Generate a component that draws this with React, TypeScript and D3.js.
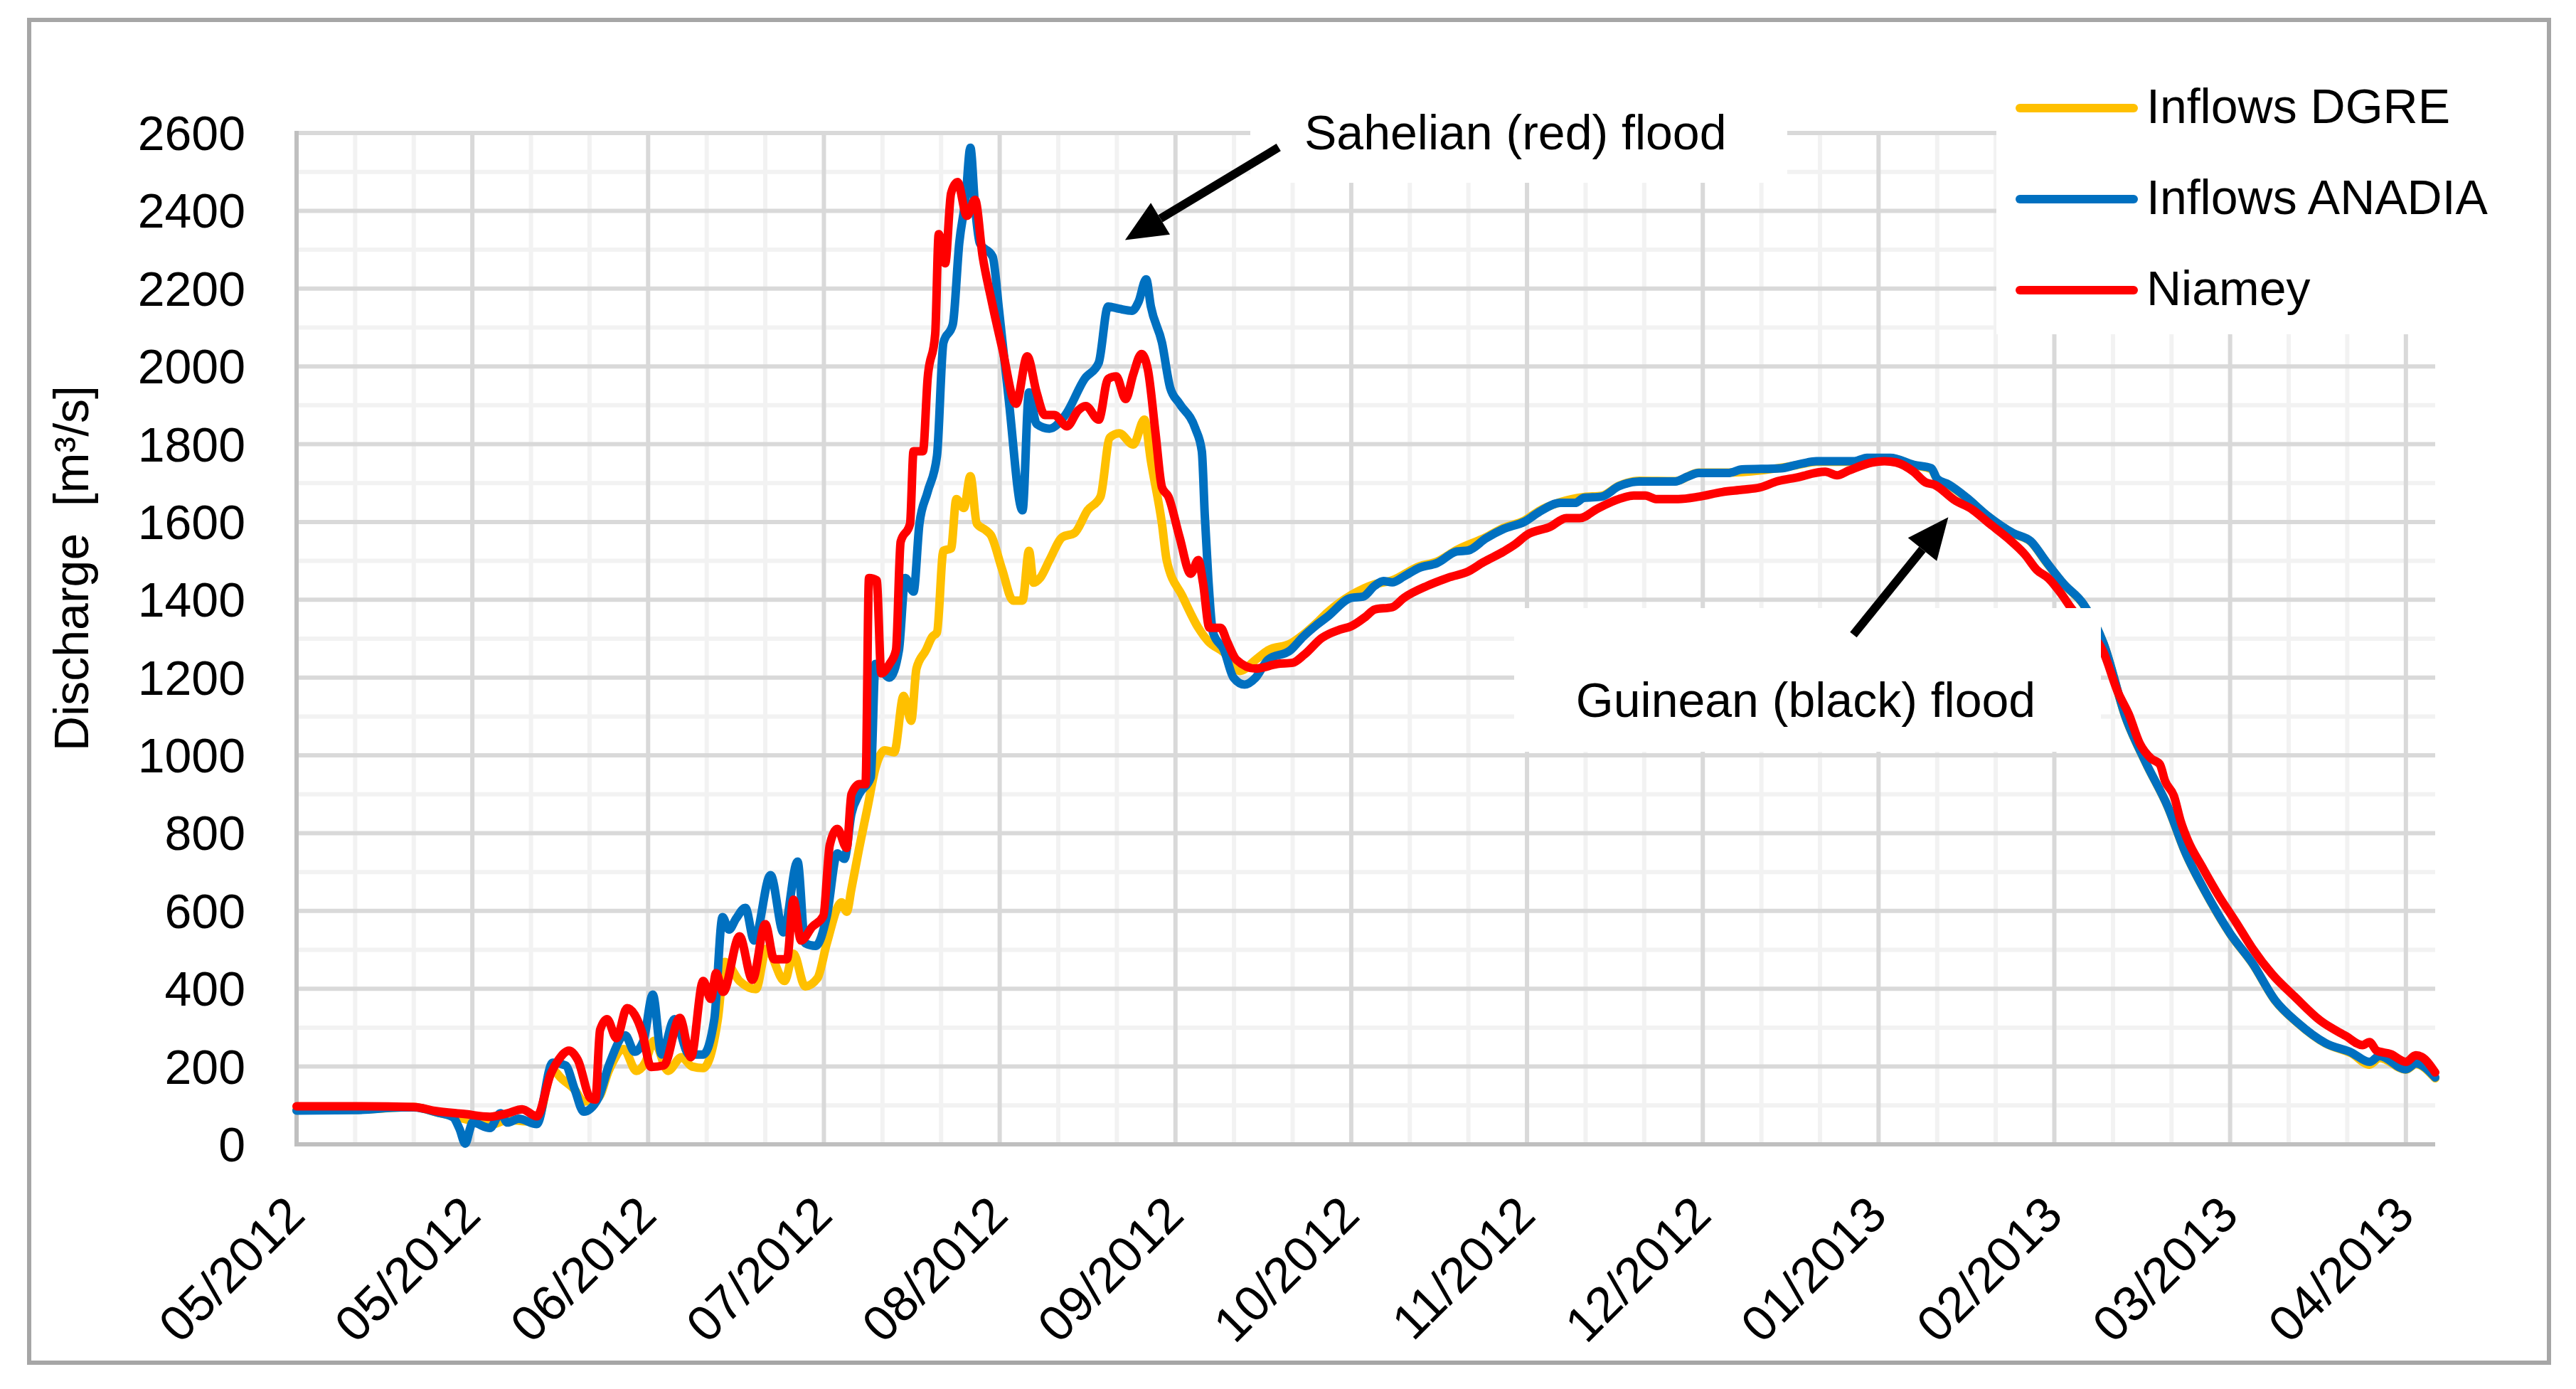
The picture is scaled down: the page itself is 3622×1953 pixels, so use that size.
import { useRef, useLayoutEffect } from "react";
import * as d3 from "d3";

// day offsets from 01/05/2012, discharge in m3/s
const dgre: [number, number][] = [
  [0, 88], [10, 89], [20, 96], [24, 82], [27, 72], [30, 60], [33, 50], [36, 62], [41, 58],
  [43.7, 190], [45.3, 168], [47.5, 140], [49, 110], [51.5, 120], [53.3, 190], [55.8, 245],
  [58, 189], [59.5, 210], [61, 266], [63.4, 189], [65.7, 224], [67.5, 200], [69.4, 196],
  [71.9, 322], [73.1, 469], [75.6, 420], [78.4, 399], [80.2, 503], [83.3, 420], [84.8, 490],
  [86.8, 406], [88.9, 427], [90.5, 517], [93, 622], [93.9, 598], [94.7, 657], [96, 760],
  [97.5, 870], [98.8, 967], [100.4, 1013], [102, 1008], [103.6, 1153], [104.9, 1089],
  [105.8, 1223], [107.4, 1270], [108.5, 1305], [109.3, 1316], [110.4, 1526], [111.7, 1532],
  [112.6, 1659], [113.9, 1636], [115, 1718], [116.1, 1596], [117.7, 1578], [118.5, 1566],
  [120.4, 1479], [122.3, 1398], [123.9, 1398], [125, 1526], [125.8, 1444], [126.9, 1456],
  [128.5, 1502], [130.7, 1561], [132.8, 1572], [135, 1630], [137.2, 1665], [138.8, 1817],
  [140.4, 1828], [142.8, 1799], [144.7, 1863], [145.8, 1758], [147.7, 1595], [148.5, 1502],
  [151.2, 1409], [153.9, 1328], [155.6, 1293], [158.3, 1264], [161, 1217], [163.7, 1246],
  [165.8, 1270], [169.6, 1287], [171.8, 1310], [174, 1339], [176, 1368], [180, 1412],
  [184, 1440], [187, 1450], [191.6, 1486], [194.6, 1498], [198, 1528], [203, 1561],
  [206, 1585], [209.6, 1604], [212, 1628], [215.7, 1651], [219.7, 1664], [222.7, 1667],
  [225.7, 1693], [229.2, 1706], [235.3, 1705], [239.3, 1727], [244.3, 1727], [250, 1733],
  [256, 1746], [259.4, 1755], [265.9, 1755], [268, 1764], [272, 1764], [276, 1746],
  [279, 1736], [280, 1710], [282, 1695], [285, 1662], [288.6, 1615], [293, 1570],
  [296, 1549], [298.6, 1497], [301.6, 1440], [305, 1387], [308.4, 1287], [312.2, 1096],
  [315.6, 981], [319.4, 866], [322.3, 752], [326.2, 637], [330, 541], [333.8, 465],
  [337.7, 369], [341.5, 312], [346.3, 259], [350.7, 234], [353.8, 205], [355.5, 222],
  [360, 192], [361.7, 206], [365, 170],
];

const anadia: [number, number][] = [
  [0, 87], [10, 88], [18, 95], [20, 95], [24, 82], [26.7, 70], [27.8, 40], [28.8, 2],
  [29.6, 40], [30, 56], [33, 42], [34.8, 80], [36, 56], [37.9, 66], [41, 52], [43.7, 210],
  [45.9, 203], [47.5, 140], [49, 84], [51.5, 119], [53.3, 203], [56.1, 280], [57.7, 238],
  [59.2, 266], [60.8, 385], [62.3, 231], [64.5, 322], [67, 231], [69.4, 231], [71.3, 322],
  [72.7, 584], [73.8, 552], [75, 580], [76.6, 608], [78.1, 524], [80.9, 692], [83.1, 545],
  [85.5, 727], [86.8, 517], [88.6, 510], [90.5, 587], [92.3, 748], [93.5, 734], [94.7, 850],
  [96, 900], [98, 944], [98.8, 1235], [101.2, 1200], [102.8, 1270], [103.9, 1456],
  [105.3, 1421], [106.3, 1595], [107.7, 1677], [109.3, 1770], [110.4, 2061], [112, 2108],
  [113.1, 2317], [114.2, 2434], [115, 2562], [115.8, 2410], [116.6, 2317], [118.8, 2282],
  [119.9, 2143], [121.5, 1921], [123.9, 1630], [125, 1933], [126.3, 1852], [128.5, 1840],
  [131.2, 1875], [134.5, 1968], [136.9, 2009], [138.5, 2154], [140.4, 2148], [142.6, 2143],
  [143.7, 2166], [145, 2224], [145.8, 2154], [147.7, 2061], [149.1, 1945], [150.7, 1904],
  [153.4, 1840], [154.5, 1782], [155, 1619], [155.6, 1456], [156.4, 1316], [158.3, 1270],
  [159.9, 1200], [161.8, 1182], [163.7, 1200], [165.8, 1246], [169.6, 1270], [171.8, 1305],
  [174, 1334], [176, 1357], [180, 1405], [182, 1408], [184, 1436], [185.5, 1448],
  [187, 1445], [189, 1460], [191.6, 1482], [194.6, 1494], [198, 1524], [200, 1527],
  [203, 1558], [206, 1582], [209.6, 1601], [212, 1625], [215.7, 1649], [218.2, 1649],
  [219.7, 1662], [222.7, 1665], [225.7, 1692], [229.2, 1704], [235.3, 1704], [237.3, 1716],
  [239.3, 1726], [244.3, 1726], [246.7, 1735], [253.3, 1738], [256, 1747], [259.4, 1756],
  [265.9, 1756], [268, 1765], [272, 1765], [276, 1747], [279, 1738], [280, 1711],
  [282, 1696], [285, 1663], [288.6, 1616], [293, 1571], [296, 1550], [298.6, 1498],
  [301.6, 1441], [305, 1388], [308.4, 1288], [312.2, 1097], [315.6, 982], [319.4, 867],
  [322.3, 753], [326.2, 638], [330, 542], [333.8, 466], [337.7, 370], [341.5, 313],
  [346.3, 260], [350.7, 236], [353.8, 212], [355.5, 227], [360, 193], [361.7, 208], [365, 172],
];

const niamey: [number, number][] = [
  [0, 98], [10, 98], [20, 96], [23.6, 86], [28.6, 78], [33, 71], [36, 80], [38.5, 90],
  [41, 72], [43.4, 182], [44.7, 217], [46.5, 241], [48, 217], [50.2, 118], [51, 115],
  [51.8, 294], [53, 322], [54.6, 273], [56.4, 350], [59, 287], [60.5, 199], [62.7, 203],
  [65.4, 325], [67.3, 224], [69.4, 420], [70.7, 374], [71.6, 440], [72.8, 392], [75.6, 535],
  [77.8, 423], [80, 566], [81.5, 476], [83.7, 476], [84.8, 629], [86.1, 524], [88, 559],
  [89.9, 587], [91, 769], [92.3, 811], [93.9, 762], [94.7, 900], [96.1, 926], [97.1, 926],
  [97.7, 1456], [99, 1450], [99.8, 1211], [101.2, 1235], [102.3, 1270], [103.1, 1549],
  [104.7, 1595], [105.3, 1782], [106.9, 1782], [107.7, 1968], [109, 2084], [109.6, 2340],
  [110.7, 2265], [111.7, 2445], [112.8, 2474], [114.4, 2387], [115.8, 2428], [117.1, 2282],
  [118.5, 2177], [120.4, 2049], [122.8, 1904], [124.7, 2026], [126.3, 1933], [127.7, 1875],
  [129.3, 1875], [131.5, 1846], [133.4, 1887], [134.7, 1898], [136.9, 1863], [138.5, 1968],
  [139.9, 1974], [141.5, 1916], [142.8, 1980], [144.2, 2032], [145.3, 1991], [146.6, 1828],
  [147.7, 1689], [148.8, 1665], [150.7, 1561], [152.6, 1467], [153.9, 1502], [154.7, 1444],
  [155.8, 1328], [157.7, 1328], [158.8, 1293], [160.4, 1246], [163.7, 1223], [167.4, 1235],
  [170, 1238], [172, 1259], [175, 1302], [178, 1323], [180, 1332], [182.5, 1357],
  [184, 1375], [187, 1381], [189, 1405], [193, 1436], [196.6, 1457], [200, 1473],
  [202.6, 1497], [206, 1524], [208, 1543], [210, 1567], [214, 1588], [216.7, 1610],
  [219, 1610], [222, 1634], [225.7, 1659], [228.2, 1668], [230.2, 1668], [232, 1659],
  [235.8, 1659], [239.3, 1665], [243.3, 1677], [246.8, 1683], [249.8, 1689], [252.8, 1705],
  [255.9, 1714], [260.9, 1729], [262.9, 1720], [264.9, 1732], [268.9, 1753], [271, 1756],
  [273, 1753], [276, 1729], [278, 1702], [279.5, 1696], [283, 1656], [286, 1632],
  [289, 1595], [292, 1559], [295, 1516], [297, 1477], [299, 1455], [301, 1419], [303, 1376],
  [305.5, 1330], [308.4, 1265], [310.8, 1164], [312.7, 1106], [314.6, 1030], [316.5, 992],
  [318, 977], [318.9, 934], [320.4, 896], [321.6, 829], [322.8, 781], [325.2, 714],
  [328.1, 638], [331, 571], [333.8, 504], [337.2, 437], [341, 380], [345.4, 318],
  [349.7, 279], [352.6, 255], [353.8, 263], [355, 241], [357.4, 232], [360, 212],
  [361.7, 229], [362.7, 225], [365, 185],
];

const seriesNames = ["Inflows DGRE", "Inflows ANADIA", "Niamey"];
const seriesColors = ["#ffc000", "#0070c0", "#ff0000"];

const xTickDays = [0, 30, 60, 90, 120, 150, 180, 210, 240, 270, 300, 330, 360];
const xTickLabels = [
  "05/2012", "05/2012", "06/2012", "07/2012", "08/2012", "09/2012", "10/2012",
  "11/2012", "12/2012", "01/2013", "02/2013", "03/2013", "04/2013",
];
const yTicks = [0, 200, 400, 600, 800, 1000, 1200, 1400, 1600, 1800, 2000, 2200, 2400, 2600];

// annotation arrows in data units: [tailDay, tailValue, tipDay, tipValue]
const sahelArrow = [167.6, 2563, 141.4, 2325];
const guineaArrow = [265.7, 1310, 281.9, 1612];

const W = 3622;
const H = 1953;
const FONT = "'Liberation Sans', Arial, sans-serif";

const useD3Chart = () => {
  const svgRef = useRef<SVGSVGElement | null>(null);

  useLayoutEffect(() => {
    if (!svgRef.current) return;
    document.body.style.margin = "0";

    const svg = d3.select(svgRef.current);
    svg.selectAll("*").remove();
    svg.attr("width", W).attr("height", H);

    const x = d3.scaleLinear().domain([0, 365]).range([417, 3424]);
    const y = d3.scaleLinear().domain([0, 2600]).range([1609, 187]);
    const [x0, x1] = x.range();
    const [y0, y1] = y.range();

    // chart frame
    svg.append("rect").attr("x", 41).attr("y", 28).attr("width", 3543).attr("height", 1888)
      .attr("fill", "#fff").attr("stroke", "#a6a6a6").attr("stroke-width", 6);

    const grid = svg.append("g").attr("stroke-width", 6);
    // minor grid first, major on top
    grid.selectAll("line.vmin").data(d3.range(10, 361, 10).filter((d) => d % 30 !== 0)).enter()
      .append("line").attr("x1", (d) => x(d)).attr("x2", (d) => x(d)).attr("y1", y1).attr("y2", y0)
      .attr("stroke", "#f2f2f2");
    grid.selectAll("line.hmin").data(d3.range(100, 2600, 200)).enter()
      .append("line").attr("x1", x0).attr("x2", x1).attr("y1", (d) => y(d)).attr("y2", (d) => y(d))
      .attr("stroke", "#f2f2f2");
    grid.selectAll("line.vmaj").data(xTickDays.slice(1)).enter()
      .append("line").attr("x1", (d) => x(d)).attr("x2", (d) => x(d)).attr("y1", y1).attr("y2", y0)
      .attr("stroke", "#d9d9d9");
    grid.selectAll("line.hmaj").data(yTicks.slice(1)).enter()
      .append("line").attr("x1", x0).attr("x2", x1).attr("y1", (d) => y(d)).attr("y2", (d) => y(d))
      .attr("stroke", "#d9d9d9");

    // axes
    svg.append("line").attr("x1", x0).attr("x2", x0).attr("y1", y1 - 3).attr("y2", y0)
      .attr("stroke", "#bfbfbf").attr("stroke-width", 6);
    svg.append("line").attr("x1", x0 - 3).attr("x2", x1).attr("y1", y0).attr("y2", y0)
      .attr("stroke", "#bfbfbf").attr("stroke-width", 6);

    // series
    const line = d3.line<[number, number]>()
      .x((d) => x(d[0]))
      .y((d) => y(d[1]))
      .curve(d3.curveMonotoneX);
    [dgre, anadia, niamey].forEach((s, i) => {
      svg.append("path").attr("d", line(s) as string).attr("fill", "none")
        .attr("stroke", seriesColors[i]).attr("stroke-width", 12)
        .attr("stroke-linejoin", "round").attr("stroke-linecap", "round");
    });

    // text boxes of the annotations and legend hide the grid behind them
    svg.append("rect").attr("x", 2807).attr("y", 31).attr("width", 3581 - 2807).attr("height", 470 - 31).attr("fill", "#fff");
    svg.append("rect").attr("x", 1758).attr("y", 100).attr("width", 2513 - 1758).attr("height", 257 - 100).attr("fill", "#fff");
    svg.append("rect").attr("x", 2129).attr("y", 855).attr("width", 2954 - 2129).attr("height", 1057 - 855).attr("fill", "#fff");

    // y ticks
    svg.append("g").selectAll("text").data(yTicks).enter().append("text")
      .attr("x", 345).attr("y", (d) => y(d) + 24)
      .attr("text-anchor", "end").attr("font-family", FONT).attr("font-size", 68).attr("fill", "#000")
      .text((d) => `${d}`);

    // x ticks
    svg.append("g").selectAll("text").data(xTickDays).enter().append("text")
      .attr("transform", (d) => `translate(${x(d) + 15}, ${y0 + 103}) rotate(-45)`)
      .attr("text-anchor", "end").attr("font-family", FONT).attr("font-size", 70).attr("fill", "#000")
      .text((d, i) => xTickLabels[i]);

    // y title
    svg.append("text")
      .attr("transform", `translate(124, 799) rotate(-90)`)
      .attr("text-anchor", "middle").attr("font-family", FONT).attr("font-size", 68)
      .style("white-space", "pre")
      .text("Discharge  [m³/s]");

    // legend
    const legend = svg.append("g");
    seriesNames.forEach((name, i) => {
      const ly = 152 + i * 128;
      legend.append("line").attr("x1", 2840).attr("x2", 3000).attr("y1", ly).attr("y2", ly)
        .attr("stroke", seriesColors[i]).attr("stroke-width", 12).attr("stroke-linecap", "round");
      legend.append("text").attr("x", 3018).attr("y", ly + 21)
        .attr("font-family", FONT).attr("font-size", 68).attr("fill", "#000").text(name);
    });

    // annotations
    svg.append("text").attr("x", 1834).attr("y", 210)
      .attr("font-family", FONT).attr("font-size", 68).text("Sahelian (red) flood");
    svg.append("text").attr("x", 2539).attr("y", 1008).attr("text-anchor", "middle")
      .attr("font-family", FONT).attr("font-size", 68).text("Guinean (black) flood");

    const drawArrow = (a: number[]) => {
      const tx = x(a[0]), ty = y(a[1]), hx = x(a[2]), hy = y(a[3]);
      const ang = Math.atan2(hy - ty, hx - tx);
      const headLen = 58, headW = 26;
      const bx = hx - headLen * Math.cos(ang), by = hy - headLen * Math.sin(ang);
      svg.append("line").attr("x1", tx).attr("y1", ty).attr("x2", bx).attr("y2", by)
        .attr("stroke", "#000").attr("stroke-width", 12);
      const px = -Math.sin(ang) * headW, py = Math.cos(ang) * headW;
      svg.append("path")
        .attr("d", `M${hx},${hy}L${bx + px},${by + py}L${bx - px},${by - py}Z`)
        .attr("fill", "#000");
    };
    drawArrow(sahelArrow);
    drawArrow(guineaArrow);
  }, []);

  return svgRef;
};

export default function App() {
  const svgRef = useD3Chart();
  return <svg ref={svgRef} style={{ display: "block", background: "#fff" }} />;
}
